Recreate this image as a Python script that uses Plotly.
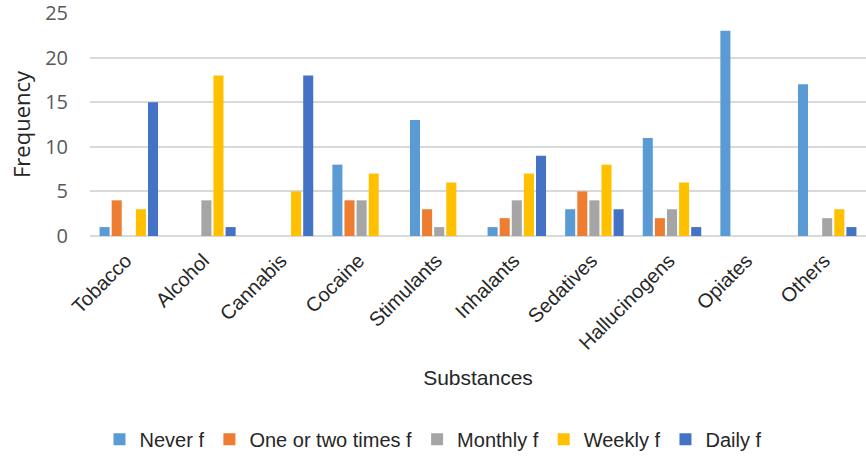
import plotly.graph_objects as go

# Substance-use frequency counts
substances = ["Tobacco", "Alcohol", "Cannabis", "Cocaine", "Stimulants",
              "Inhalants", "Sedatives", "Hallucinogens", "Opiates", "Others"]
never_f = [1, 0, 0, 8, 13, 1, 3, 11, 23, 17]
one_two_f = [4, 0, 0, 4, 3, 2, 5, 2, 0, 0]
monthly_f = [0, 4, 0, 4, 1, 4, 4, 3, 0, 2]
weekly_f = [3, 18, 5, 7, 6, 7, 8, 6, 0, 3]
daily_f = [15, 1, 18, 0, 0, 9, 3, 1, 0, 1]
y_ticks = [0, 5, 10, 15, 20, 25]

series = [
    ("Never f", never_f, "#5B9BD5"),
    ("One or two times f", one_two_f, "#ED7D31"),
    ("Monthly f", monthly_f, "#A5A5A5"),
    ("Weekly f", weekly_f, "#FFC000"),
    ("Daily f", daily_f, "#4472C4"),
]

fig = go.Figure()
for name, vals, color in series:
    fig.add_trace(go.Bar(
        x=substances, y=vals, name=name,
        marker=dict(color=color, line=dict(width=0)),
    ))

sans = "Liberation Sans, Arial, sans-serif"
ui = "Open Sans, Noto Sans, sans-serif"
fig.update_layout(
    width=866, height=459,
    margin=dict(l=90, r=0, t=13, b=223),
    paper_bgcolor="white", plot_bgcolor="white",
    barmode="group", bargap=0.22, bargroupgap=0.17,
    font=dict(family=sans, color="#595959", size=16),
    xaxis=dict(
        automargin=False,
        tickangle=-45, tickfont=dict(family=sans, size=20, color="#262626"),
        ticklabelstandoff=8, ticklabelshift=-3,
        showgrid=False, showline=False, ticks="",
        title=dict(text="Substances", font=dict(family=sans, size=21, color="#262626"),
                   standoff=17),
    ),
    yaxis=dict(
        automargin=False,
        range=[0, 25.001], tickvals=y_ticks,
        tickfont=dict(family=ui, size=20, color="#595959"),
        ticklabeloverflow="allow",
        showgrid=True, gridcolor="#D9D9D9", gridwidth=1.5,
        zeroline=True, zerolinecolor="#D9D9D9", zerolinewidth=1.5,
        ticks="", ticklabelstandoff=21,
        title=dict(text="Frequency", font=dict(family=ui, size=22, color="#262626"),
                   standoff=8),
    ),
    legend=dict(
        orientation="h", x=0.442, xanchor="center", y=-0.999, yanchor="bottom",
        font=dict(family=sans, size=20, color="#262626"), itemwidth=30,
        traceorder="normal",
    ),
)

fig.write_html("out.html")
